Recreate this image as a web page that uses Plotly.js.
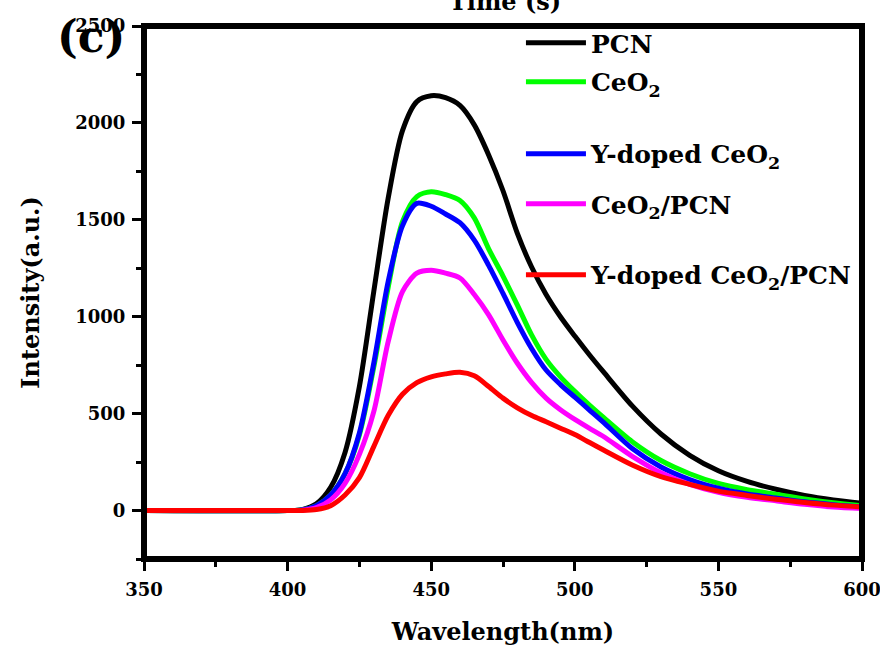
<!DOCTYPE html>
<html>
<head>
<meta charset="utf-8">
<script src="https://cdn.plot.ly/plotly-3.0.1.min.js"></script>
<style>html,body{margin:0;padding:0;background:#fff;}#chart{width:880px;height:649px;}</style>
</head>
<body>
<div id="chart"></div>
<script>
// Wavelength (nm)
const wavelength = [350, 400, 405, 410, 415, 420, 425, 430, 435, 440, 445, 450, 455, 460, 465, 470, 475, 480, 485, 490, 495, 500, 505, 510, 520, 530, 540, 550, 560, 570, 580, 590, 600];
// Intensity (a.u.) series
const pcn      = [0, 0, 5, 35, 120, 300, 640, 1130, 1610, 1960, 2110, 2140, 2130, 2090, 1990, 1835, 1650, 1430, 1255, 1115, 1000, 900, 805, 715, 540, 395, 285, 205, 150, 110, 78, 55, 38];
const ceo2     = [0, 0, 3, 25, 80, 190, 390, 740, 1150, 1490, 1620, 1645, 1630, 1600, 1510, 1350, 1210, 1060, 905, 780, 690, 615, 545, 480, 355, 258, 190, 140, 108, 84, 60, 40, 25];
const yCeo2    = [0, 0, 3, 25, 80, 190, 400, 760, 1180, 1470, 1585, 1570, 1530, 1485, 1395, 1265, 1120, 970, 835, 725, 650, 585, 520, 455, 320, 225, 160, 115, 85, 65, 45, 30, 18];
const ceo2Pcn  = [0, 0, 2, 15, 55, 140, 290, 510, 870, 1130, 1225, 1240, 1225, 1200, 1115, 1010, 880, 760, 660, 580, 520, 470, 425, 382, 280, 195, 135, 94, 68, 50, 32, 18, 10];
const yCeo2Pcn = [0, 0, 0, 5, 25, 80, 170, 330, 490, 600, 660, 690, 705, 713, 695, 640, 580, 530, 490, 458, 425, 392, 352, 312, 235, 175, 135, 100, 78, 58, 42, 28, 18];

const seriesNames = ["PCN", "CeO<sub>2</sub>", "Y-doped CeO<sub>2</sub>", "CeO<sub>2</sub>/PCN", "Y-doped CeO<sub>2</sub>/PCN"];
const seriesData = [pcn, ceo2, yCeo2, ceo2Pcn, yCeo2Pcn];
const seriesColors = ["#000000", "#00ff00", "#0000ff", "#ff00ff", "#ff0000"];
const legendIds = ["legend", "legend2", "legend3", "legend4", "legend5"];
const legendY = [0.968, 0.895, 0.760, 0.666, 0.533];

const xTicks = [350, 400, 450, 500, 550, 600];
const yTicks = [0, 500, 1000, 1500, 2000, 2500];

const FONT = "DejaVu Serif";

const traces = seriesData.map((ys, i) => ({
  x: wavelength,
  y: ys,
  type: "scatter",
  mode: "lines",
  name: seriesNames[i],
  legend: legendIds[i],
  line: {color: seriesColors[i], width: 5, shape: "spline", smoothing: 0.8}
}));

const layout = {
  width: 880,
  height: 649,
  margin: {l: 144, r: 18, t: 26, b: 90, autoexpand: false},
  paper_bgcolor: "#ffffff",
  plot_bgcolor: "#ffffff",
  showlegend: true,
  xaxis: {
    range: [350, 600],
    tickvals: xTicks,
    ticktext: xTicks.map(String),
    ticks: "outside",
    ticklen: 11,
    tickwidth: 3,
    tickcolor: "#000",
    ticklabelstandoff: 3,
    ticklabeloverflow: "allow",
    minor: {dtick: 25, ticks: "outside", ticklen: 7, tickwidth: 3, tickcolor: "#000", showgrid: false},
    showgrid: false,
    zeroline: false,
    showline: false,
    tickfont: {family: FONT, size: 18, color: "#000", weight: "bold"},
    title: {text: "Wavelength(nm)", font: {family: FONT, size: 24, color: "#000", weight: "bold"}, standoff: 24}
  },
  yaxis: {
    range: [-250, 2500],
    tickvals: yTicks,
    ticktext: yTicks.map(String),
    ticks: "outside",
    ticklen: 11,
    tickwidth: 3,
    tickcolor: "#000",
    ticklabelstandoff: 3,
    ticklabeloverflow: "allow",
    minor: {dtick: 250, ticks: "outside", ticklen: 7, tickwidth: 3, tickcolor: "#000", showgrid: false},
    showgrid: false,
    zeroline: false,
    showline: false,
    tickfont: {family: FONT, size: 18, color: "#000", weight: "bold"},
    title: {text: "Intensity(a.u.)", font: {family: FONT, size: 24, color: "#000", weight: "bold"}, standoff: 28}
  },
  shapes: [
    {type: "rect", xref: "paper", yref: "paper", x0: 0, x1: 1, y0: 0, y1: 1, line: {color: "#000", width: 6}, layer: "above"}
  ],
  annotations: [
    {text: "(c)", xref: "paper", yref: "paper", x: -0.074, y: 0.981, xanchor: "center", yanchor: "middle", showarrow: false,
     font: {family: FONT, size: 44, color: "#000", weight: "bold"}},
    {text: "Time (s)", xref: "paper", yref: "paper", x: 0.503, y: 1, xanchor: "center", yanchor: "bottom", yshift: 8, showarrow: false,
     font: {family: FONT, size: 24, color: "#000", weight: "bold"}}
  ]
};

legendIds.forEach((id, i) => {
  layout[id] = {
    x: 0.525, y: legendY[i], xref: "paper", yref: "paper",
    xanchor: "left", yanchor: "middle",
    bgcolor: "rgba(0,0,0,0)", borderwidth: 0,
    itemwidth: 60,
    font: {family: FONT, size: 25, color: "#000", weight: "bold"}
  };
});

Plotly.newPlot("chart", traces, layout, {displayModeBar: false, staticPlot: true});
</script>
</body>
</html>
